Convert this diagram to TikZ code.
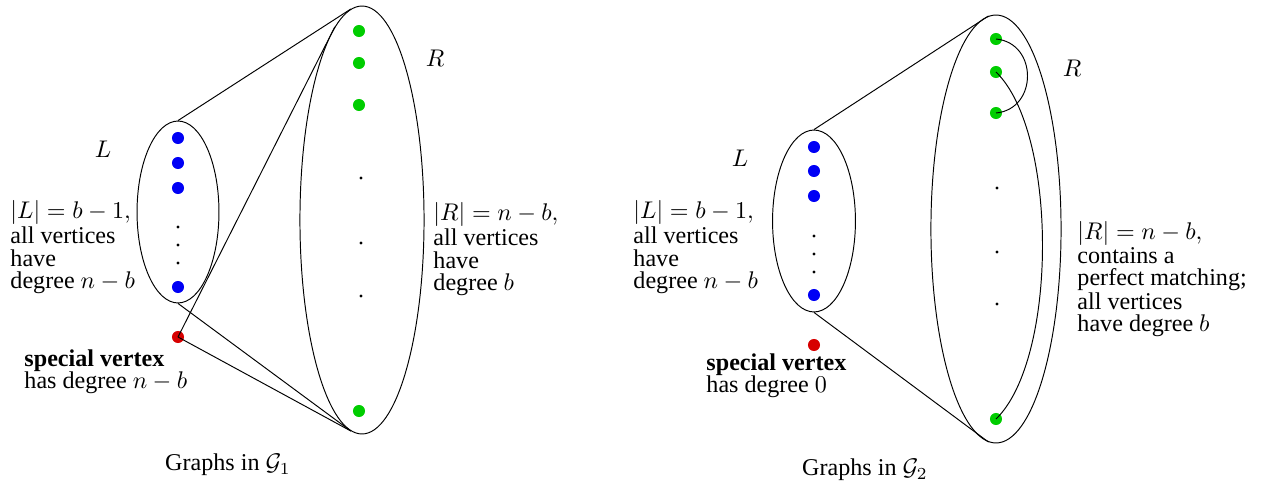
\documentclass[tikz,border=0pt]{standalone}
\usepackage{fontspec}
\setmainfont{Liberation Serif}
\usetikzlibrary{positioning,shapes.geometric}
\definecolor{dotblue}{RGB}{0,0,245}
\definecolor{dotgreen}{RGB}{0,205,0}
\definecolor{dotred}{RGB}{215,0,0}
\tikzset{
    graphpart/.style={draw, ellipse, inner sep=0pt},
    leftvert/.style={circle, fill=dotblue, inner sep=0pt, minimum size=5pt},
    rightvert/.style={circle, fill=dotgreen, inner sep=0pt, minimum size=5pt},
    specialvert/.style={circle, fill=dotred, inner sep=0pt, minimum size=5pt},
    gapdot/.style={circle, fill=black, inner sep=0pt, minimum size=1.3pt},
    graphtext/.style={align=left, inner sep=0pt, anchor=north west, font=\fontsize{10}{9.3}\selectfont},
    graphedge/.style={draw}
}

\begin{document}
\begin{tikzpicture}[x=0.415pt, y=-0.415pt]
    \useasboundingbox (0,0) rectangle (1268,488);

    % first graph
    \node[graphpart, minimum width=34pt, minimum height=75.5pt] (Lone) at (178,212) {};
    \node[graphpart, minimum width=51.5pt, minimum height=177.6pt] (Rone) at (362,220) {};
    \node (Lonelabel) at (103,149) {$L$};
    \node (Ronelabel) at (435,58) {$R$};

    \node[leftvert] (lva) at (178,138) {};
    \node[leftvert] (lvb) at (178,163) {};
    \node[leftvert] (lvc) at (178,188) {};
    \node[gapdot] (lgapa) at (178,227) {};
    \node[gapdot] (lgapb) at (178,245) {};
    \node[gapdot] (lgapc) at (178,263) {};
    \node[leftvert] (lvd) at (178,287) {};
    \node[specialvert] (spa) at (178,337) {};

    \node[rightvert] (rva) at (359,31) {};
    \node[rightvert] (rvb) at (359,63) {};
    \node[rightvert] (rvc) at (359,105) {};
    \node[gapdot] (rgapa) at (361,178) {};
    \node[gapdot] (rgapb) at (361,243) {};
    \node[gapdot] (rgapc) at (361,296) {};
    \node[rightvert] (rvd) at (359,411) {};

    \draw[graphedge] (Lone.north) -- (Rone.93);
    \draw[graphedge] (Lone.south) -- (Rone.267);
    \draw[graphedge] (spa.center) -- (Rone.98);
    \draw[graphedge] (spa.center) -- (Rone.267);

    \node[graphtext] (Lonetext) at (10,200) {$|L|=b-1,$\\all vertices\\have\\degree $n-b$};
    \node[graphtext] (Ronetext) at (433,202) {$|R|=n-b,$\\all vertices\\have\\degree $b$};
    \node[graphtext] (sponetext) at (24,349) {\textbf{special vertex}\\has degree $n-b$};
    \node (captionone) at (228,465) {Graphs in $\mathcal{G}_1$};

    % second graph
    \node[graphpart, minimum width=34.4pt, minimum height=75.5pt] (Ltwo) at (814,221) {};
    \node[graphpart, minimum width=54pt, minimum height=177.6pt] (Rtwo) at (996,229) {};
    \node (Ltwolabel) at (740,158) {$L$};
    \node (Rtwolabel) at (1072,68) {$R$};

    \node[leftvert] (lwa) at (814,147) {};
    \node[leftvert] (lwb) at (814,171) {};
    \node[leftvert] (lwc) at (814,196) {};
    \node[gapdot] (lgapd) at (814,236) {};
    \node[gapdot] (lgape) at (814,254) {};
    \node[gapdot] (lgapf) at (814,272) {};
    \node[leftvert] (lwd) at (814,295) {};
    \node[specialvert] (spb) at (814,345) {};

    \node[rightvert] (rwa) at (996,39) {};
    \node[rightvert] (rwb) at (996,72) {};
    \node[rightvert] (rwc) at (996,113) {};
    \node[gapdot] (rgapd) at (997,188) {};
    \node[gapdot] (rgape) at (997,252) {};
    \node[gapdot] (rgapf) at (997,304) {};
    \node[rightvert] (rwd) at (996,419) {};

    \draw[graphedge] (Ltwo.north) -- (Rtwo.92);
    \draw[graphedge] (Ltwo.south) -- (Rtwo.268);
    \draw[graphedge] (rwa.center) .. controls +(42,4) and +(42,-4) .. (rwc.center);
    \draw[graphedge] (rwb.center) .. controls +(62,60) and +(62,-60) .. (rwd.center);

    \node[graphtext] (Ltwotext) at (633,200) {$|L|=b-1,$\\all vertices\\have\\degree $n-b$};
    \node[graphtext, font=\fontsize{10}{8.9}\selectfont] (Rtwotext) at (1077,221) {$|R|=n-b,$\\contains a\\perfect matching;\\all vertices\\have degree $b$};
    \node[graphtext] (sptwotext) at (706,353) {\textbf{special vertex}\\has degree $0$};
    \node (captiontwo) at (865,470) {Graphs in $\mathcal{G}_2$};
\end{tikzpicture}
\end{document}
